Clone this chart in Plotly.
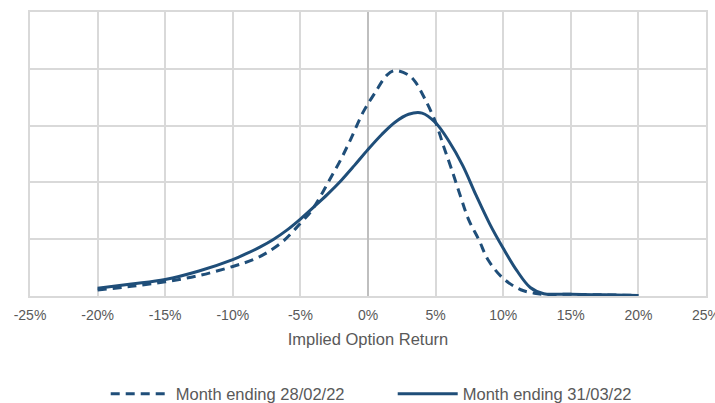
import plotly.graph_objects as go

# Implied option return (%) and density (arbitrary units)
feb_x = [-20, -17.5, -15, -12.5, -10, -8.5, -7.5, -6.25, -5, -4.25, -3.65, -2.9, -2.04, -1.3, -0.33,
         0.5, 1.4, 2, 3, 3.5, 4.25, 5, 5.6, 6.2, 6.85, 7.45, 8.2, 8.9, 10, 11.3, 12.3, 13, 15, 17.5, 20]
feb_y = [0.105, 0.17, 0.25, 0.36, 0.52, 0.64, 0.76, 0.97, 1.28, 1.48, 1.70, 2.02, 2.39, 2.75, 3.25,
         3.57, 3.89, 3.97, 3.89, 3.77, 3.45, 3.06, 2.63, 2.22, 1.75, 1.34, 0.99, 0.63, 0.31, 0.11, 0.05, 0.03, 0.03, 0.02, 0.01]

mar_x = [-20, -17.5, -15, -12.5, -10, -9, -8, -7, -6, -5, -4, -3, -2, -1, 0, 1, 2, 3, 4,
         5, 6, 7, 8, 9, 10, 11, 12, 13, 14, 15, 17.5, 20]
mar_y = [0.135, 0.21, 0.29, 0.44, 0.64, 0.745, 0.86, 0.995, 1.16, 1.355, 1.57, 1.79, 2.03, 2.30, 2.58, 2.84, 3.06, 3.20, 3.22,
         3.05, 2.72, 2.30, 1.77, 1.27, 0.84, 0.45, 0.15, 0.04, 0.03, 0.03, 0.02, 0.01]

series_names = ["Month ending 28/02/22", "Month ending 31/03/22"]
x_ticks = [-25, -20, -15, -10, -5, 0, 5, 10, 15, 20, 25]
x_tick_labels = [f"{t}%" for t in x_ticks]

color = "#1F4E79"
font_family = "Liberation Sans, Arial, sans-serif"
text_color = "#595959"
grid_color = "#D9D9D9"

fig = go.Figure()
fig.add_trace(go.Scatter(x=feb_x, y=feb_y, mode="lines", name=series_names[0],
                         line=dict(color=color, width=3, dash="9px,6px", shape="spline", smoothing=1.0)))
fig.add_trace(go.Scatter(x=mar_x, y=mar_y, mode="lines", name=series_names[1],
                         line=dict(color=color, width=3, shape="spline", smoothing=1.0)))

fig.update_layout(
    width=715, height=403,
    margin=dict(l=30, r=9, t=12, b=107, autoexpand=False),
    paper_bgcolor="white", plot_bgcolor="white",
    font=dict(family=font_family, color=text_color, size=14),
    showlegend=True,
    legend=dict(orientation="h", x=0.112, xanchor="left", y=-0.345, yanchor="middle",
                font=dict(size=16.5, color=text_color), itemwidth=60, entrywidth=212,
                traceorder="normal", bgcolor="rgba(0,0,0,0)"),
    xaxis=dict(range=[-25, 25], tickvals=x_ticks, ticktext=x_tick_labels,
               showgrid=True, gridcolor=grid_color, gridwidth=1.5,
               zeroline=True, zerolinecolor="#BFBFBF", zerolinewidth=1.5,
               showline=True, mirror=True, linecolor=grid_color, linewidth=1.5,
               ticks="", ticklabelstandoff=5, ticklabeloverflow="allow",
               tickfont=dict(size=14, color=text_color),
               title=dict(text="Implied Option Return", font=dict(size=16.5, color=text_color), standoff=12),
               fixedrange=True),
    yaxis=dict(range=[0, 5], dtick=1, showticklabels=False, showgrid=True,
               gridcolor=grid_color, gridwidth=1.5,
               zeroline=True, zerolinecolor=grid_color, zerolinewidth=1.5,
               showline=True, mirror=True, linecolor=grid_color, linewidth=1.5,
               ticks="", fixedrange=True),
)

fig.write_html("out.html", config={"displayModeBar": False},
               post_script="document.body.style.margin='0';")
